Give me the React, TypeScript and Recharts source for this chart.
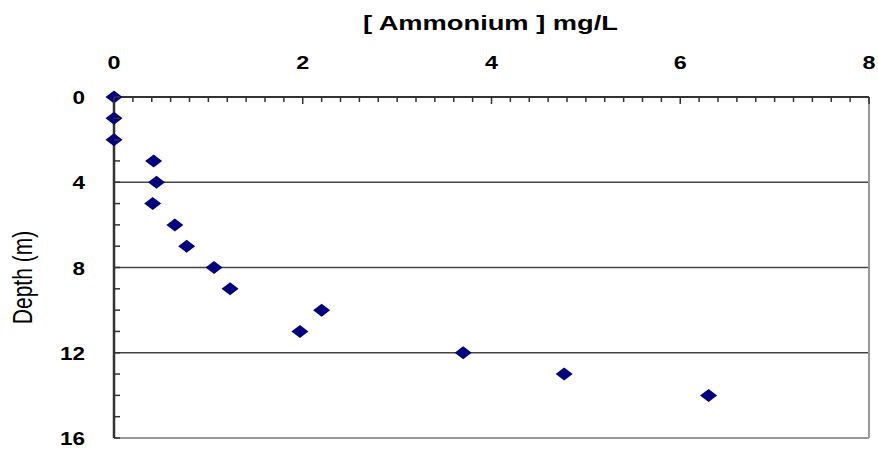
import { ScatterChart, Scatter, XAxis, YAxis, ReferenceLine } from "recharts";

// depth (m) vs ammonium (mg/L)
const depths = [0, 1, 2, 3, 4, 5, 6, 7, 8, 9, 10, 11, 12, 13, 14];
const ammonium = [0, 0, 0, 0.42, 0.45, 0.41, 0.645, 0.77, 1.06, 1.23, 2.2, 1.97, 3.7, 4.77, 6.3];

const xLabels = [0, 2, 4, 6, 8];
const yLabels = [0, 4, 8, 12, 16];
const gridDepths = [4, 8, 12];
const xMinorTicks = Array.from({ length: 41 }, (_, i) => +(i * 0.2).toFixed(1));
const yMinorTicks = Array.from({ length: 17 }, (_, i) => i);

const points = depths.map((d, i) => ({ x: ammonium[i], y: d }));

const AXIS = "#333333";
const BORDER = "#9a9a9a";
const NAVY = "#000080";
const tickFont = { fontFamily: "Liberation Sans, Arial, sans-serif", fontWeight: 700, fontSize: 18 };

function XTick(props: any) {
  const { x, y, payload } = props;
  const v = payload.value;
  const major = xLabels.includes(v);
  return (
    <g>
      <line x1={x} x2={x} y1={y} y2={y + (major ? 7 : 5)} stroke={AXIS} strokeWidth={1.5} />
      {major && (
        <text x={x} y={y - 28} textAnchor="middle" fill="#000" {...tickFont}
          textLength={13 * String(v).length} lengthAdjust="spacingAndGlyphs">
          {v}
        </text>
      )}
    </g>
  );
}

function YTick(props: any) {
  const { x, y, payload } = props;
  const v = payload.value;
  const major = yLabels.includes(v);
  const w = 12.5 * String(v).length;
  return (
    <g>
      <line x1={x} x2={x + 6} y1={y} y2={y} stroke={AXIS} strokeWidth={1.5} />
      {major && (
        <text x={x - 29 - w} y={y + 7} textAnchor="start" fill="#000" {...tickFont}
          textLength={w} lengthAdjust="spacingAndGlyphs">
          {v}
        </text>
      )}
    </g>
  );
}

function Diamond(props: any) {
  const { cx, cy } = props;
  return (
    <polygon
      points={`${cx - 8.5},${cy} ${cx},${cy - 6.5} ${cx + 8.5},${cy} ${cx},${cy + 6.5}`}
      fill={NAVY}
    />
  );
}

export default function App() {
  return (
    <div style={{ position: "absolute", left: 0, top: 0, background: "#fff" }}>
      <ScatterChart width={878} height={458} margin={{ top: 57, right: 9, bottom: 20, left: 74 }}>
        <XAxis
          type="number"
          dataKey="x"
          orientation="top"
          domain={[0, 8]}
          ticks={xMinorTicks}
          interval={0}
          height={40}
          tickSize={0}
          tickMargin={0}
          tickLine={false}
          axisLine={{ stroke: AXIS, strokeWidth: 2 }}
          tick={<XTick />}
          label={{
            position: "insideTop",
            content: (p: any) => {
              const vb = p.viewBox;
              return (
                <text x={vb.x + vb.width / 2 - 1} y={vb.y - 27} textAnchor="middle" fill="#000"
                  fontFamily="Liberation Sans, Arial, sans-serif" fontWeight={700} fontSize={20}
                  textLength={255} lengthAdjust="spacingAndGlyphs">
                  [ Ammonium ] mg/L
                </text>
              );
            },
          }}
        />
        <YAxis
          type="number"
          dataKey="y"
          reversed
          domain={[0, 16]}
          ticks={yMinorTicks}
          interval={0}
          width={40}
          tickSize={0}
          tickMargin={0}
          tickLine={false}
          axisLine={{ stroke: AXIS, strokeWidth: 2.5 }}
          tick={<YTick />}
          label={{
            position: "insideLeft",
            content: (p: any) => {
              const vb = p.viewBox;
              const cx = 22;
              const cy = vb.y + vb.height / 2 + 10;
              return (
                <text x={0} y={0} transform={`translate(${cx} ${cy}) scale(1.3 1) rotate(-90)`}
                  textAnchor="middle" dominantBaseline="central" fill="#000"
                  fontFamily="Liberation Sans, Arial, sans-serif" fontSize={21}>
                  Depth (m)
                </text>
              );
            },
          }}
        />
        {gridDepths.map((d) => (
          <ReferenceLine key={d} y={d} stroke="#444" strokeWidth={1.5} />
        ))}
        <ReferenceLine x={8} stroke={BORDER} strokeWidth={2} />
        <ReferenceLine y={16} stroke={BORDER} strokeWidth={2} />
        <Scatter data={points} shape={<Diamond />} isAnimationActive={false} />
      </ScatterChart>
    </div>
  );
}
